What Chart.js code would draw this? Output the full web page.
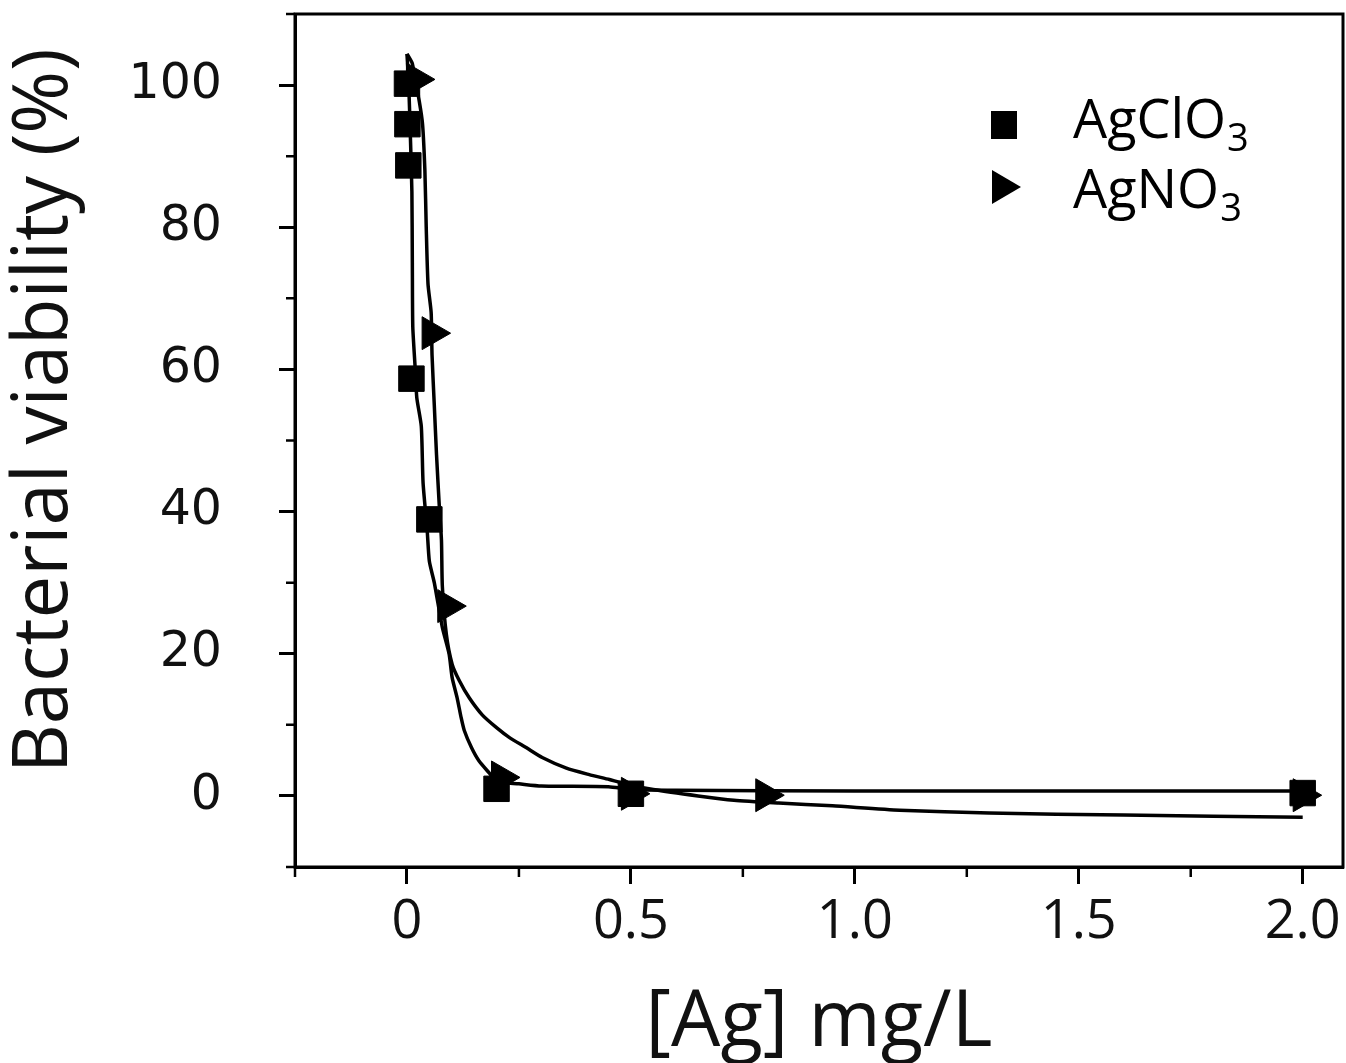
<!DOCTYPE html>
<html>
<head>
<meta charset="utf-8">
<script src="https://cdn.jsdelivr.net/npm/chart.js@4.4.1/dist/chart.umd.min.js"></script>
<style>
html, body { margin: 0; padding: 0; background: #fff; }
</style>
</head>
<body>
<canvas id="myChart" width="1346" height="1063"></canvas>
<script>
var clo3X = [0, 0.001, 0.003, 0.01, 0.05, 0.2, 0.5, 2.0]
var clo3Y = [100.2, 94.5, 88.7, 58.7, 38.9, 1.0, 0.3, 0.4]
var no3X = [0.02, 0.055, 0.09, 0.21, 0.5, 0.8, 2.0]
var no3Y = [100.8, 65.1, 26.7, 2.6, 0.3, 0.1, 0.1]

// fitted curves
var fitClo3X = [0, 0.004, 0.008, 0.011, 0.012, 0.013, 0.018, 0.022, 0.032, 0.036, 0.045, 0.05, 0.061, 0.079, 0.094, 0.101, 0.112, 0.121, 0.128, 0.144, 0.161, 0.184, 0.2, 0.25, 0.3, 0.45, 0.5, 0.6, 1.0, 2.0]
var fitClo3Y = [104.4, 100, 92, 85, 75, 66, 60.5, 56, 52, 44, 37.5, 33, 30, 23.7, 20, 16.6, 13.8, 11.0, 9.2, 6.8, 4.9, 3.2, 2.0, 1.7, 1.4, 1.3, 0.9, 0.8, 0.7, 0.7]
var fitNo3X = [0, 0.012, 0.034, 0.04, 0.043, 0.047, 0.054, 0.056, 0.061, 0.066, 0.072, 0.077, 0.079, 0.088, 0.101, 0.117, 0.139, 0.168, 0.2, 0.229, 0.266, 0.302, 0.356, 0.407, 0.452, 0.481, 0.55, 0.65, 0.73, 0.83, 0.95, 1.1, 1.3, 1.6, 2.0]
var fitNo3Y = [104.4, 103, 95, 88, 80, 72, 68, 62, 55, 48, 41, 36, 29.5, 22.7, 18.5, 16.2, 13.8, 11.4, 9.6, 8.2, 6.8, 5.4, 3.9, 3.0, 2.3, 1.8, 0.9, 0.0, -0.6, -1.0, -1.4, -2.0, -2.4, -2.7, -3.0]

// axis ticks
var xTicks = [-0.25, 0, 0.25, 0.5, 0.75, 1.0, 1.25, 1.5, 1.75, 2.0]
var xTickLabels = ['', '0', '', '0.5', '', '1.0', '', '1.5', '', '2.0']
var yTicks = [-10, 0, 10, 20, 30, 40, 50, 60, 70, 80, 90, 100, 110]
var yTickLabels = ['', '0', '', '20', '', '40', '', '60', '', '80', '', '100', '']

function pts(xs, ys) {
    return xs.map((x, i) => ({x: x, y: ys[i]}))
}

// frame, minor ticks and the legend inside the plot
const framePlugin = {
    id: 'frame',
    afterDraw(chart) {
        const ctx = chart.ctx
        const a = chart.chartArea
        const sx = chart.scales.x, sy = chart.scales.y
        ctx.save()
        ctx.strokeStyle = '#000'
        ctx.lineWidth = 3
        ctx.strokeRect(a.left, a.top, a.right - a.left, a.bottom - a.top)

        ctx.lineWidth = 2.5
        ctx.beginPath()
        yTicks.forEach((v, i) => {
            if (yTickLabels[i] !== '') return
            const py = sy.getPixelForValue(v)
            ctx.moveTo(a.left - 9, py)
            ctx.lineTo(a.left, py)
        })
        xTicks.forEach((v, i) => {
            if (xTickLabels[i] !== '') return
            const px = sx.getPixelForValue(v)
            ctx.moveTo(px, a.bottom)
            ctx.lineTo(px, a.bottom + 10)
        })
        ctx.stroke()

        // legend
        const lx = a.right - 339
        const ly1 = a.top + 111
        const ly2 = a.top + 173
        ctx.fillStyle = '#000'
        ctx.fillRect(lx - 13, ly1 - 14, 26, 28)
        ctx.beginPath()
        ctx.moveTo(lx - 12, ly2 - 17)
        ctx.lineTo(lx + 17, ly2)
        ctx.lineTo(lx - 12, ly2 + 17)
        ctx.closePath()
        ctx.fill()

        const tx = lx + 69
        const rows = [['AgClO', '3', ly1 + 13], ['AgNO', '3', ly2 + 21]]
        rows.forEach(r => {
            ctx.font = '54px "Open Sans"'
            ctx.textBaseline = 'alphabetic'
            ctx.fillText(r[0], tx, r[2])
            const w = ctx.measureText(r[0]).width
            ctx.font = '38px "Open Sans"'
            ctx.fillText(r[1], tx + w + 1, r[2] + 13)
        })
        ctx.restore()
    }
}

const ctx = document.getElementById('myChart')

new Chart(ctx, {
    type: 'scatter',
    data: {
        datasets: [{
            label: 'AgClO3',
            data: pts(clo3X, clo3Y),
            pointStyle: 'rect',
            pointRadius: 18,
            backgroundColor: '#000',
            borderColor: '#000',
            borderWidth: 1,
            clip: false,
            order: 1
        }, {
            label: 'AgNO3',
            data: pts(no3X, no3Y),
            pointStyle: 'triangle',
            rotation: 90,
            pointRadius: 19,
            backgroundColor: '#000',
            borderColor: '#000',
            borderWidth: 1,
            clip: false,
            order: 1
        }, {
            label: 'AgClO3 fit',
            data: pts(fitClo3X, fitClo3Y),
            showLine: true,
            pointRadius: 0,
            borderColor: '#000',
            borderWidth: 3.5,
            tension: 0.2,
            order: 2
        }, {
            label: 'AgNO3 fit',
            data: pts(fitNo3X, fitNo3Y),
            showLine: true,
            pointRadius: 0,
            borderColor: '#000',
            borderWidth: 3.5,
            tension: 0.2,
            order: 2
        }]
    },
    options: {
        responsive: false,
        animation: false,
        layout: { autoPadding: false, padding: { top: 14, right: 3, left: 0, bottom: 0 } },
        plugins: {
            legend: { display: false },
            tooltip: { enabled: false }
        },
        scales: {
            x: {
                type: 'linear',
                min: -0.25,
                max: 2.09,
                afterBuildTicks: s => { s.ticks = xTicks.map(v => ({value: v})) },
                afterFit: s => { s.height = 196; s.paddingLeft = 0; s.paddingRight = 0 },
                ticks: {
                    autoSkip: false,
                    maxRotation: 0,
                    padding: 6,
                    color: '#111',
                    font: { family: 'Open Sans', size: 54 },
                    callback: (v, i) => xTickLabels[i]
                },
                grid: {
                    drawOnChartArea: false,
                    drawTicks: true,
                    tickLength: 17,
                    tickWidth: 3,
                    tickColor: c => xTickLabels[c.index] === '' ? 'rgba(0,0,0,0)' : '#000'
                },
                border: { display: true, color: '#000', width: 3 },
                title: {
                    display: true,
                    text: '[Ag] mg/L',
                    color: '#111',
                    font: { family: 'Open Sans', size: 78, lineHeight: 1 },
                    padding: 0
                }
            },
            y: {
                min: -10,
                max: 110,
                afterBuildTicks: s => { s.ticks = yTicks.map(v => ({value: v})) },
                afterFit: s => { s.width = 295; s.paddingTop = 0; s.paddingBottom = 0 },
                ticks: {
                    autoSkip: false,
                    padding: 57,
                    color: '#111',
                    font: { family: 'DejaVu Sans', size: 49 },
                    callback: (v, i) => yTickLabels[i]
                },
                grid: {
                    drawOnChartArea: false,
                    drawTicks: true,
                    tickLength: 16,
                    tickWidth: 3,
                    tickColor: c => yTickLabels[c.index] === '' ? 'rgba(0,0,0,0)' : '#000'
                },
                border: { display: true, color: '#000', width: 3 },
                title: {
                    display: true,
                    // leading spaces nudge the centred title upward, as in the figure
                    text: '   Bacterial viability (%)',
                    color: '#111',
                    font: { family: 'Open Sans', size: 76, lineHeight: 1.2 },
                    padding: 0
                }
            }
        }
    },
    plugins: [framePlugin]
});
</script>
</body>
</html>
